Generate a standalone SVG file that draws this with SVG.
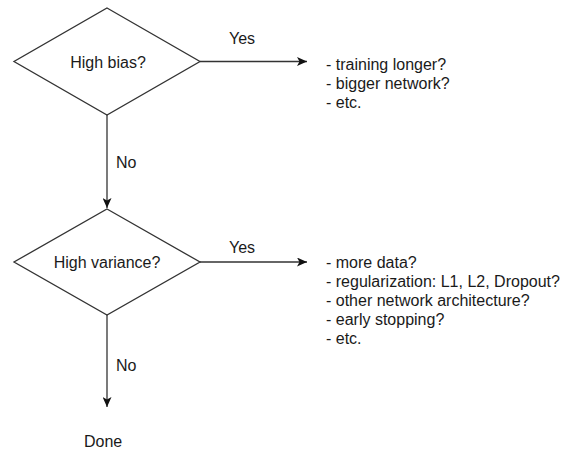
<svg xmlns="http://www.w3.org/2000/svg" width="566" height="450" viewBox="0 0 566 450">
  <style>
    .shape { fill: #ffffff; stroke: #333333; stroke-width: 1.3; }
    .edge { fill: none; stroke: #333333; stroke-width: 1.3; }
    text { font-family: "Liberation Sans", Arial, sans-serif; font-size: 16px; fill: #1a1a1a; }
    .mid { text-anchor: middle; }
  </style>
  <defs>
    <marker id="arrow" viewBox="0 0 10 9" refX="10" refY="4.5" markerWidth="10" markerHeight="9" markerUnits="userSpaceOnUse" orient="auto">
      <path d="M0,0 L10,4.5 L0,9 L2.5,4.5 Z" fill="#111111"/>
    </marker>
  </defs>
  <rect width="566" height="450" fill="#ffffff"/>

  <g id="connectors">
    <line class="edge" x1="200" y1="61.5" x2="307" y2="61.5" marker-end="url(#arrow)"/>
    <line class="edge" x1="107" y1="115" x2="107" y2="208" marker-end="url(#arrow)"/>
    <line class="edge" x1="200" y1="262" x2="307" y2="262" marker-end="url(#arrow)"/>
    <line class="edge" x1="107" y1="315" x2="107" y2="407" marker-end="url(#arrow)"/>
    <text x="229" y="44">Yes</text>
    <text x="116" y="168">No</text>
    <text x="229" y="253">Yes</text>
    <text x="116" y="371">No</text>
  </g>

  <g id="high-bias">
    <polygon class="shape" points="107,8 200,61.5 107,115 14,61.5"/>
    <text class="mid" x="108" y="67.5">High bias?</text>
  </g>

  <g id="bias-remedies">
    <text x="326" y="70">- training longer?</text>
    <text x="326" y="89">- bigger network?</text>
    <text x="326" y="108">- etc.</text>
  </g>

  <g id="high-variance">
    <polygon class="shape" points="107,209 200,262 107,315 14,262"/>
    <text class="mid" x="107" y="268">High variance?</text>
  </g>

  <g id="variance-remedies">
    <text x="326" y="268">- more data?</text>
    <text x="326" y="287">- regularization: L1, L2, Dropout?</text>
    <text x="326" y="306">- other network architecture?</text>
    <text x="326" y="325">- early stopping?</text>
    <text x="326" y="344">- etc.</text>
  </g>

  <g id="done">
    <text x="84" y="446.5">Done</text>
  </g>
</svg>
